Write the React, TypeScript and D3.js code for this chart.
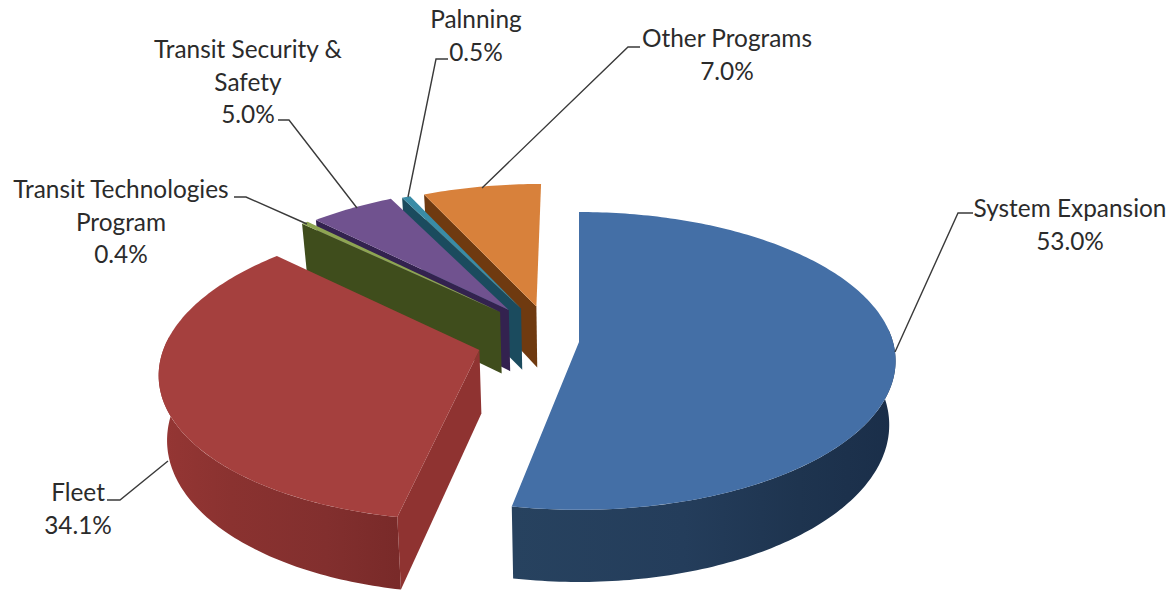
import React from "react";
import * as d3 from "d3";

// Budget shares, clockwise from twelve o'clock
const categories = ["System Expansion", "Fleet", "Transit Technologies Program", "Transit Security & Safety", "Palnning", "Other Programs"];
const shares = [53.0, 34.1, 0.4, 5.0, 0.5, 7.0];

// Slice colours: top face, cut face
const topColors = ["#446fa6", "#a5403e", "#8ea552", "#70528f", "#3a8ca6", "#d8813b"];
const cutColors = ["#24405f", "#8f3331", "#3f4d1c", "#33224f", "#1b4b5e", "#6f3a10"];

// Explosion offset of each slice on the pie plane (x, then depth)
const explodeX = [0, -0.315, -0.258, -0.23, -0.19, -0.14];
const explodeY = [0, 0.055, -0.21, -0.225, -0.235, -0.25];

// Outer wall shading, left to right, for the two slices whose rim faces the viewer
const blueWall = [["0", "#27425f"], ["0.45", "#243d5b"], ["0.75", "#1e344f"], ["1", "#1a2e49"]];
const redWall = [["0", "#953634"], ["0.3", "#8a3230"], ["0.7", "#822f2e"], ["1", "#792a29"]];

const labelLines = [
  ["System Expansion"],
  ["Fleet"],
  ["Transit Technologies", "Program"],
  ["Transit Security &", "Safety"],
  ["Palnning"],
  ["Other Programs"],
];
const labelX = [1070, 78, 121, 248, 476, 727];
const labelTop = [217, 501, 198, 58, 28, 47];
const leaders = [
  [[973, 213], [958, 213], [895, 352]],
  [[107, 500], [120, 500], [168, 461]],
  [[234, 197], [246, 197], [307, 224]],
  [[278, 120], [289, 120], [357, 208]],
  [[448, 59], [436, 59], [408, 197]],
  [[640, 47], [628, 47], [482, 188]],
];

const WIDTH = 1174;
const HEIGHT = 590;
const CX = 579;
const CY = 342;
const RX = 314;
const RY = 146.5;
const PERSPECTIVE = 0.127;
const DEPTH = 63;
const LOWER_SHRINK = 0.98;
const LINE_HEIGHT = 32.5;

type Pt = [number, number];

// Perspective projection of a point on the pie plane; lower = true gives the underside,
// which sits further from the viewer and so draws in slightly towards the centre
function project(u: number, v: number, lower = false): Pt {
  const s = 1 / (1 - PERSPECTIVE * v);
  const x = RX * u * s * (lower ? LOWER_SHRINK : 1);
  return [CX + x, CY + RY * v * s + (lower ? DEPTH * s : 0)];
}

const toPath = d3.line<Pt>();
const pct = d3.format(".1f");

export default function App() {
  const arcs = d3.pie<number>().sort(null).startAngle(0).endAngle(2 * Math.PI)(shares);
  // Far slices are painted first so that nearer ones overlap them
  const order = [5, 4, 3, 2, 1, 0];

  const rimPoint = (i: number, a: number, lower = false) =>
    project(explodeX[i] + Math.sin(a), explodeY[i] - Math.cos(a), lower);
  const apex = (i: number, lower = false) => project(explodeX[i], explodeY[i], lower);
  const samples = (a0: number, a1: number) => {
    const n = Math.max(2, Math.ceil((a1 - a0) * 60));
    return d3.range(n + 1).map((k) => a0 + ((a1 - a0) * k) / n);
  };

  return (
    <svg
      width={WIDTH}
      height={HEIGHT}
      viewBox={`0 0 ${WIDTH} ${HEIGHT}`}
      style={{ position: "absolute", left: 0, top: 0, display: "block", background: "#fff" }}
    >
      <defs>
        <linearGradient id="wall-0" gradientUnits="userSpaceOnUse" x1={512} x2={895} y1={0} y2={0}>
          {blueWall.map(([o, c]) => <stop key={o} offset={o} stopColor={c} />)}
        </linearGradient>
        <linearGradient id="wall-1" gradientUnits="userSpaceOnUse" x1={160} x2={398} y1={0} y2={0}>
          {redWall.map(([o, c]) => <stop key={o} offset={o} stopColor={c} />)}
        </linearGradient>
      </defs>

      {order.map((i) => {
        const { startAngle: a0, endAngle: a1 } = arcs[i];
        const rim = samples(a0, a1);
        const topFace = [apex(i), ...rim.map((a) => rimPoint(i, a))];
        const cutFace = [apex(i), rimPoint(i, a0), rimPoint(i, a0, true), apex(i, true)];
        // The part of the rim facing the viewer sits between 3 and 9 o'clock
        const wallFrom = Math.max(a0, (85 * Math.PI) / 180);
        const wallTo = Math.min(a1, (275 * Math.PI) / 180);
        const wallAngles = wallTo > wallFrom ? samples(wallFrom, wallTo) : [];
        const wall = wallAngles.length
          ? [...wallAngles.map((a) => rimPoint(i, a)), ...[...wallAngles].reverse().map((a) => rimPoint(i, a, true))]
          : [];
        return (
          <g key={categories[i]}>
            {wall.length > 0 && <path d={toPath(wall) + "Z"} fill={`url(#wall-${i})`} />}
            {i !== 0 && <path d={toPath(cutFace) + "Z"} fill={cutColors[i]} />}
            <path d={toPath(topFace) + "Z"} fill={topColors[i]} />
          </g>
        );
      })}

      {leaders.map((pts, i) => (
        <path key={i} d={toPath(pts as Pt[]) ?? ""} fill="none" stroke="#3a3a3a" strokeWidth={1.4} />
      ))}

      <g fontFamily="Lato, sans-serif" fontSize={24.4} fill="#2b2b2b" textAnchor="middle">
        {categories.map((c, i) => (
          <text key={c} x={labelX[i]} y={labelTop[i]}>
            {[...labelLines[i], `${pct(shares[i])}%`].map((line, k) => (
              <tspan key={k} x={labelX[i]} dy={k === 0 ? 0 : LINE_HEIGHT}>{line}</tspan>
            ))}
          </text>
        ))}
      </g>
    </svg>
  );
}
